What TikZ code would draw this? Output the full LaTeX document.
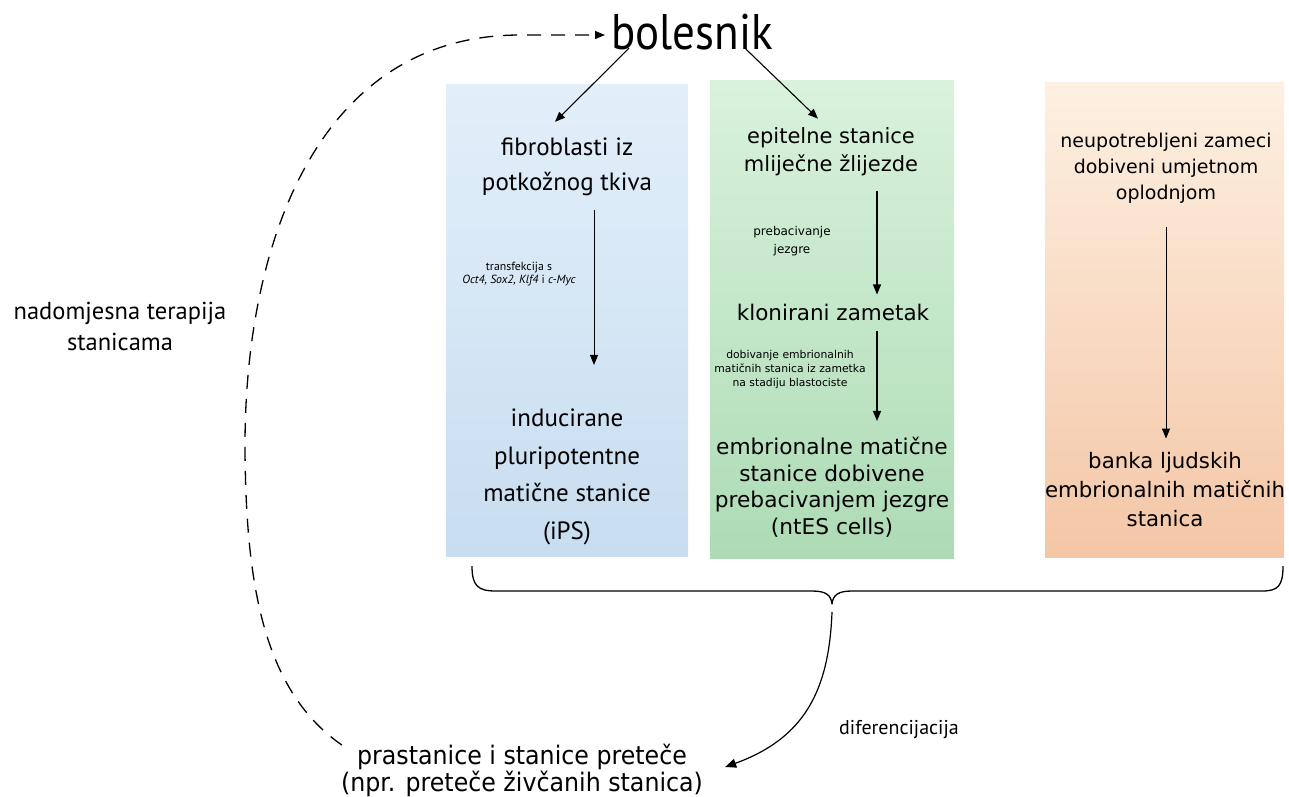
\documentclass[tikz,border=0pt]{standalone}
\usepackage{fontspec}
\setmainfont{PT Sans}
\newfontfamily\dv{DejaVu Sans}
\newfontfamily\dvc[FakeStretch=0.93]{DejaVu Sans}
\newfontfamily\bolf[FakeStretch=0.9]{PT Sans}
\usetikzlibrary{arrows.meta,calc}
\definecolor{bluetop}{HTML}{E2EFFA}
\definecolor{bluebot}{HTML}{C8DDF0}
\definecolor{greentop}{HTML}{D9F2DC}
\definecolor{greenbot}{HTML}{ADDBB5}
\definecolor{orangetop}{HTML}{FDF0E2}
\definecolor{orangebot}{HTML}{F4C6A6}
\tikzset{
  arr/.style={line width=1.2pt,-{Triangle[length=10pt,width=8pt]}},
  thinarr/.style={line width=0.9pt,-{Triangle[length=10pt,width=8pt]}},
  lbl/.style={inner sep=0pt,align=center,text=black},
}
\begin{document}
\begin{tikzpicture}[x=1pt,y=-1pt]
\useasboundingbox (0,0) rectangle (1289,796);
% panels
\shade[top color=bluetop,bottom color=bluebot] (446,84) rectangle (688,556);
\shade[top color=greentop,bottom color=greenbot] (710,80) rectangle (954,558);
\shade[top color=orangetop,bottom color=orangebot] (1045,82) rectangle (1284,557);

% nodes
\node[lbl,font={\bolf\fontsize{50}{50}\selectfont}] (bol) at (692,32) {bolesnik};
\node[lbl,font={\fontsize{25}{35}\selectfont}] (fib) at (567,167) {fibroblasti iz\\potkožnog tkiva};
\node[lbl,font={\fontsize{25}{37.5}\selectfont}] (ips) at (567,477) {inducirane\\pluripotentne\\matične stanice\\(iPS)};
\node[lbl,font={\fontsize{11.8}{13.5}\selectfont}] (trans) at (519,274) {transfekcija s\\\textit{Oct4, Sox2, Klf4} i \textit{c-Myc}};
\node[lbl,font={\dv\fontsize{21}{28}\selectfont}] (epi) at (831,152) {epitelne stanice\\mliječne žlijezde};
\node[lbl,font={\dv\fontsize{12}{18}\selectfont}] (preb) at (792,241) {prebacivanje\\jezgre};
\node[lbl,font={\dv\fontsize{21.5}{26}\selectfont}] (klon) at (833,312) {klonirani zametak};
\node[lbl,font={\dv\fontsize{10.8}{14}\selectfont}] (dob) at (790,370) {dobivanje embrionalnih\\matičnih stanica iz zametka\\na stadiju blastociste};
\node[lbl,font={\dv\fontsize{21.7}{26.5}\selectfont}] (ntes) at (832,487) {embrionalne matične\\stanice dobivene\\prebacivanjem jezgre\\(ntES cells)};
\node[lbl,font={\dv\fontsize{19}{26}\selectfont}] (neu) at (1166,168) {neupotrebljeni zameci\\dobiveni umjetnom\\oplodnjom};
\node[lbl,font={\dv\fontsize{21.3}{29}\selectfont}] (banka) at (1165,490) {banka ljudskih\\embrionalnih matičnih\\stanica};
\node[lbl,font={\fontsize{24.5}{31}\selectfont}] (nad) at (120,326) {nadomjesna terapija\\stanicama};
\node[lbl,font={\fontsize{20}{20}\selectfont},anchor=west] (dif) at (839,730) {diferencijacija};
\node[lbl,font={\dvc\fontsize{25.5}{27}\selectfont}] (pras) at (522,770) {prastanice i stanice preteče\\(npr. preteče živčanih stanica)};

% arrows from patient
\draw[line width=1.1pt,-{Triangle[length=10pt,width=8pt]}] ($(bol.south west)+(18,-2)$) -- ($(fib.north)+(-12,-16)$);
\draw[line width=1.1pt,-{Triangle[length=10pt,width=8pt]}] ($(bol.south east)+(-28,-2)$) -- ($(epi.north)+(-13,-9)$);

% vertical arrows
\draw[thinarr] ($(fib.south)+(27,14)$) -- ($(ips.north)+(27,-44)$);
\draw[arr] ($(epi.south)+(46,15)$) -- ($(klon.north)+(44,-9)$);
\draw[arr] ($(klon.south)+(44,10)$) -- ($(ntes.north)+(45,-16)$);
\draw[thinarr] ($(neu.south)+(0,24)$) -- ($(banka.north)+(1,-14)$);

% brace
\coordinate (bl) at (472,566);
\coordinate (br) at (1283,566);
\coordinate (bt) at (832,604);
\draw[line width=1.3pt,line join=round]
  (bl) .. controls (472,586) and (478,591) .. (496,591)
  -- (812,591) .. controls (826,591) and (831,595) .. (bt)
  .. controls (833,595) and (838,591) .. (852,591)
  -- (1262,591) .. controls (1278,591) and (1283,586) .. (br);

% differentiation arrow
\draw[line width=1.2pt,-{Triangle[length=11pt,width=9pt]}] ($(bt)+(0,8)$) .. controls (829,690) and (805,738) .. ($(pras.east)+(22,-3)$);

% dashed return arrow
\coordinate (ds) at ($(pras.west)+(1,-25)$);
\draw[line width=1.3pt,dash pattern=on 14pt off 10pt,-{Triangle[length=10pt,width=8pt]}]
  (ds) .. controls (262,690) and (246,580) .. (245,450)
  .. controls (244,240) and (320,35) .. (520,35) -- ($(bol.west)+(-6,3)$);
\end{tikzpicture}
\end{document}
